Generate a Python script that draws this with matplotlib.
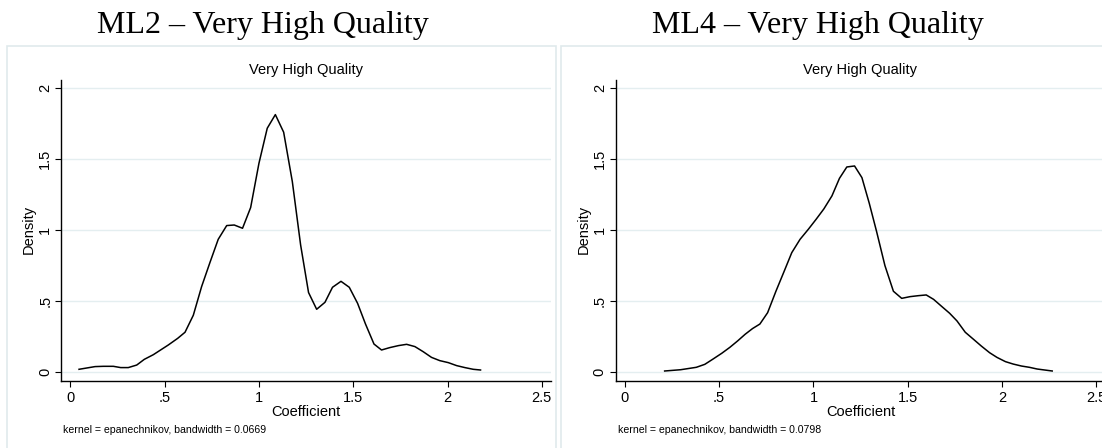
import matplotlib
matplotlib.use('Agg')
import matplotlib.pyplot as plt
from matplotlib.patches import Rectangle

plt.rcParams['font.family'] = ['Liberation Sans', 'DejaVu Sans']

# density estimates
ml2_x = [0.046, 0.131, 0.175, 0.228, 0.267, 0.307, 0.352, 0.392, 0.440, 0.519,
         0.569, 0.608, 0.652, 0.696, 0.740, 0.784, 0.829, 0.869, 0.913, 0.956,
         1.000, 1.044, 1.087, 1.131, 1.177, 1.221, 1.263, 1.306, 1.350, 1.390,
         1.435, 1.479, 1.523, 1.565, 1.610, 1.650, 1.694, 1.740, 1.783, 1.827,
         1.871, 1.915, 1.959, 2.004, 2.048, 2.092, 2.136, 2.175]
ml2_y = [0.019, 0.038, 0.040, 0.040, 0.031, 0.031, 0.049, 0.089, 0.122, 0.190,
         0.237, 0.280, 0.400, 0.602, 0.771, 0.935, 1.032, 1.036, 1.013, 1.159,
         1.471, 1.718, 1.814, 1.690, 1.342, 0.895, 0.560, 0.442, 0.491, 0.597,
         0.639, 0.597, 0.484, 0.338, 0.197, 0.155, 0.172, 0.186, 0.195, 0.179,
         0.143, 0.103, 0.080, 0.066, 0.045, 0.031, 0.019, 0.014]

ml4_x = [0.211, 0.296, 0.379, 0.424, 0.465, 0.514, 0.557, 0.598, 0.638, 0.677,
         0.716, 0.757, 0.801, 0.846, 0.885, 0.929, 0.973, 1.014, 1.055, 1.098,
         1.138, 1.177, 1.218, 1.257, 1.296, 1.335, 1.379, 1.424, 1.468, 1.512,
         1.557, 1.598, 1.637, 1.681, 1.722, 1.761, 1.805, 1.849, 1.890, 1.934,
         1.973, 2.018, 2.059, 2.103, 2.145, 2.186, 2.266]
ml4_y = [0.007, 0.016, 0.033, 0.054, 0.089, 0.132, 0.174, 0.219, 0.266, 0.306,
         0.338, 0.418, 0.569, 0.714, 0.841, 0.935, 1.006, 1.076, 1.149, 1.241,
         1.365, 1.445, 1.452, 1.370, 1.189, 0.989, 0.750, 0.569, 0.519, 0.531,
         0.538, 0.543, 0.512, 0.461, 0.414, 0.360, 0.280, 0.230, 0.183, 0.136,
         0.103, 0.073, 0.056, 0.042, 0.033, 0.021, 0.007]

x_ticks = [0, 0.5, 1, 1.5, 2, 2.5]
x_labels = ['0', '.5', '1', '1.5', '2', '2.5']
y_ticks = [0, 0.5, 1, 1.5, 2]
y_labels = ['0', '.5', '1', '1.5', '2']

panels = [
    ('ML2 \u2013 Very High Quality', ml2_x, ml2_y, '0.0669'),
    ('ML4 \u2013 Very High Quality', ml4_x, ml4_y, '0.0798'),
]

W, H = 1102, 448
fig = plt.figure(figsize=(W / 100, H / 100), dpi=100)
fig.patch.set_facecolor('white')

grid_col = '#e4eef0'
box_col = '#e0eaec'

for i, (title, xs, ys, bw) in enumerate(panels):
    off = i * 554.5
    # light frame around each graph
    fig.patches.append(Rectangle(((6.5 + off) / W, -0.05), 549 / W, 1 - 46 / H + 0.05,
                                 transform=fig.transFigure, facecolor='none',
                                 edgecolor=box_col, linewidth=1.2, zorder=-5))
    fig.text((263 + off) / W, 1 - 25 / H, title, ha='center', va='center',
             fontsize=23, family='Liberation Serif')

    ax = fig.add_axes([(61.3 + off) / W, (H - 381) / H, 489.4 / W, 301 / H])
    ax.set_facecolor('none')
    ax.plot(xs, ys, color='black', lw=1.1)
    ax.set_xlim(-0.048, 2.547)
    ax.set_ylim(-0.0635, 2.058)
    ax.set_xticks(x_ticks)
    ax.set_xticklabels(x_labels)
    ax.set_yticks(y_ticks)
    ax.set_yticklabels(y_labels, rotation=90, va='center')
    for yv in y_ticks:
        ax.axhline(yv, color=grid_col, lw=1.0, zorder=0)
    for s in ['top', 'right']:
        ax.spines[s].set_visible(False)
    for s in ['left', 'bottom']:
        ax.spines[s].set_linewidth(1.0)
    ax.tick_params(axis='both', length=4.5, width=0.8, labelsize=10.5, pad=3)
    ax.tick_params(axis='y', pad=2)

    ax.text(0.5, 1.033, 'Very High Quality', transform=ax.transAxes,
            ha='center', va='center', fontsize=10.5)
    ax.text(-0.066, 0.502, 'Density', transform=ax.transAxes, rotation=90,
            ha='center', va='center', fontsize=10.5)
    ax.text(0.5, -0.102, 'Coefficient', transform=ax.transAxes,
            ha='center', va='center', fontsize=10.5)
    ax.text(0.004, -0.163, 'kernel = epanechnikov, bandwidth = ' + bw,
            transform=ax.transAxes, ha='left', va='center', fontsize=7.6)

fig.savefig('out.png', dpi=100, facecolor='white')
